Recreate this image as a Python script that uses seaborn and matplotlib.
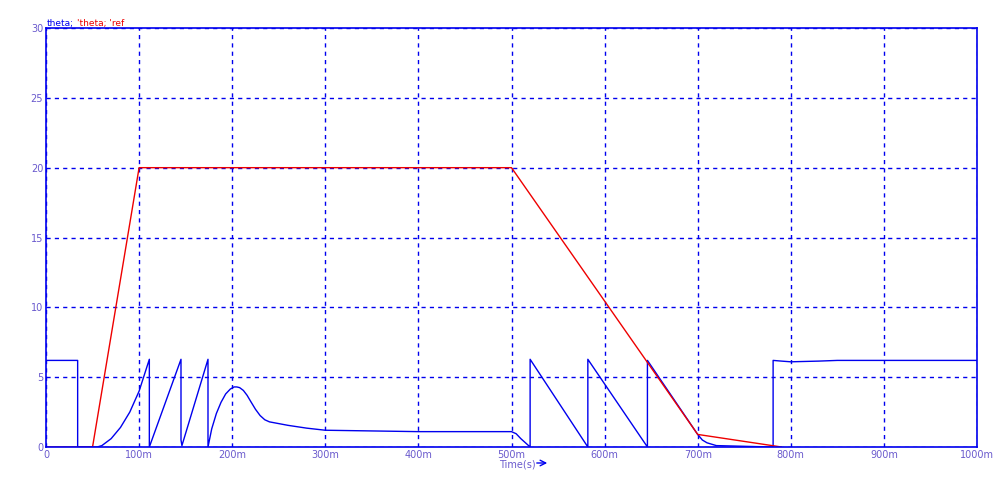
import matplotlib
matplotlib.use("Agg")
import matplotlib.pyplot as plt
import seaborn as sns
import pandas as pd

sns.set_style("white")
plt.rcParams['font.family'] = ['DejaVu Sans']

blue_t = [0, 34, 34, 55, 60, 70, 80, 90, 100, 111, 111, 145, 145, 146, 174, 174,
          178, 183, 188, 193, 198, 202, 205, 208, 212, 216, 220, 225, 230, 235, 240,
          260, 280, 300, 350, 400, 450, 500,
          505, 510, 515, 520, 520, 582, 582, 646, 646, 700, 705, 710, 720, 750, 781, 781,
          790, 800, 830, 850, 1000]
blue_v = [6.2, 6.2, 0, 0, 0.1, 0.6, 1.4, 2.5, 4.0, 6.28, 0, 6.28, 0.5, 0.1, 6.28, 0,
          1.3, 2.4, 3.2, 3.8, 4.15, 4.3, 4.3, 4.25, 4.05, 3.7, 3.25, 2.7, 2.25, 1.95, 1.8,
          1.55, 1.35, 1.2, 1.15, 1.1, 1.1, 1.1,
          0.95, 0.6, 0.3, 0, 6.28, 0, 6.28, 0, 6.2, 0.9, 0.5, 0.3, 0.1, 0.05, 0, 6.2,
          6.15, 6.1, 6.15, 6.2, 6.2]
red_t = [0, 50, 100, 500, 700, 790]
red_v = [0, 0, 20, 20, 0.9, 0]

blue = pd.DataFrame({"t": blue_t, "v": blue_v})
red = pd.DataFrame({"t": red_t, "v": red_v})

fig = plt.figure(figsize=(10, 5), dpi=100)
ax = fig.add_axes([0.046, 0.106, 0.931, 0.838])
C = "#0000ee"
sns.lineplot(data=blue, x="t", y="v", ax=ax, color=C, lw=1.0, sort=False, estimator=None)
sns.lineplot(data=red, x="t", y="v", ax=ax, color="#ee0000", lw=1.0, sort=False, estimator=None)
ax.set_xlim(0, 1000)
ax.set_ylim(0, 30)
ax.set_xticks(range(0, 1001, 100))
ax.set_xticklabels(["0"] + [f"{i}m" for i in range(100, 1001, 100)])
ax.set_yticks(range(0, 31, 5))
ax.tick_params(colors="#6a5acd", labelsize=7, length=0, pad=2)
ax.grid(True, color=C, ls=(0, (3, 3)), lw=1)
for s in ax.spines.values():
    s.set_color(C)
    s.set_linewidth(1.2)
ax.set_xlabel("")
ax.set_ylabel("")
fig.text(0.047, 0.948, "theta;", color=C, fontsize=6.5)
fig.text(0.077, 0.948, "'theta; 'ref", color="#ee0000", fontsize=6.5)
fig.text(0.499, 0.065, "Time(s)", color="#6a5acd", fontsize=7)
ax.annotate("", xy=(0.550, 0.074), xytext=(0.534, 0.074), xycoords="figure fraction",
            arrowprops=dict(arrowstyle="->", color=C, lw=1))
fig.savefig("out.png", dpi=100)
